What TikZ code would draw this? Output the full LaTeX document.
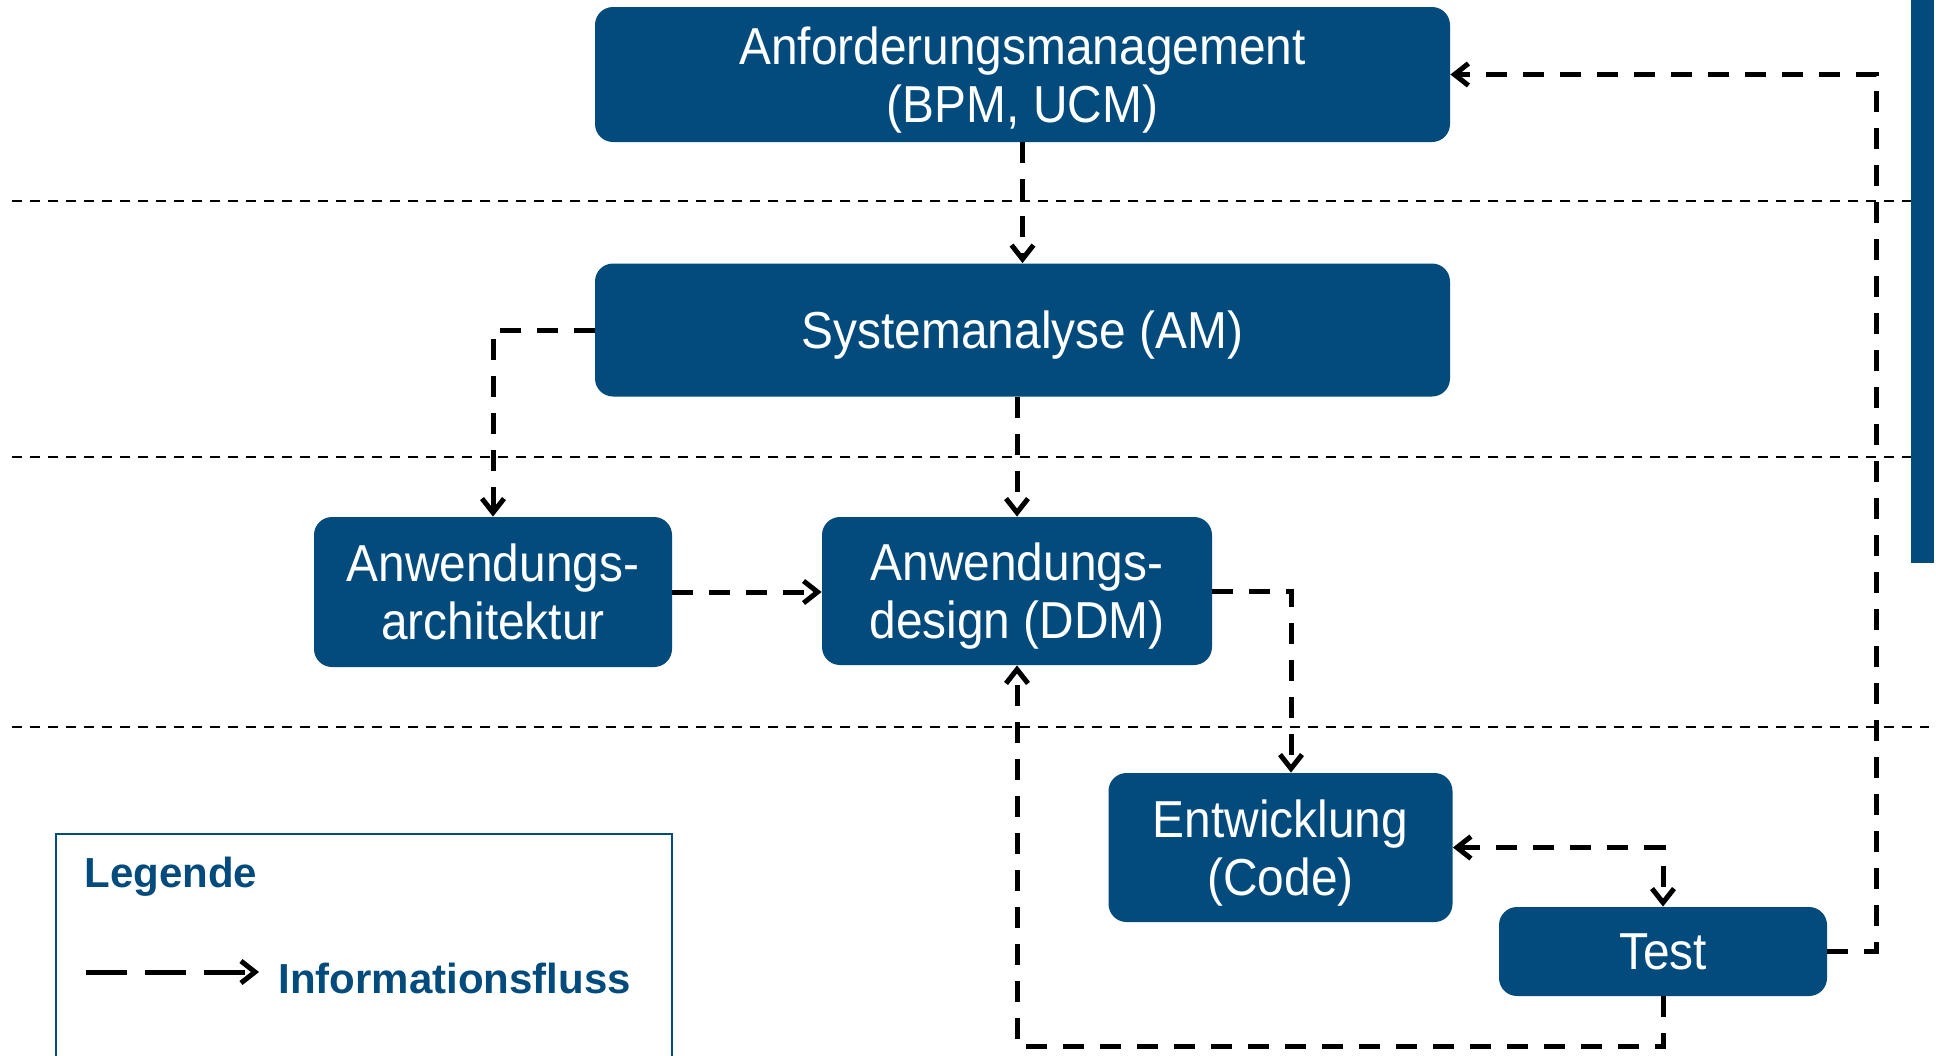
\documentclass[tikz,border=0pt]{standalone}
\usepackage{fontspec}
\setmainfont{Liberation Sans}
\newfontfamily\boxfont[FakeStretch=0.92]{Liberation Sans}
\usetikzlibrary{arrows.meta}
\definecolor{boxblue}{RGB}{3,75,124}
\tikzset{
  barb/.tip={Straight Barb[length=7pt,width=11pt]},
  stage/.style={rectangle, rounded corners=9pt, fill=boxblue, text=white, align=center,
    inner sep=0pt, text depth=0pt, font=\boxfont\fontsize{26}{29}\selectfont},
  flow/.style={draw=black, line width=2.5pt, dash pattern=on 10.5pt off 8pt, -barb},
  sep/.style={draw=black, line width=1pt, dash pattern=on 5pt off 4pt},
  legtext/.style={text=boxblue, font=\bfseries\fontsize{21}{24}\selectfont, inner sep=0pt, anchor=base west}
}
\begin{document}
\begin{tikzpicture}[x=0.5pt,y=-0.5pt]
\useasboundingbox (0,0) rectangle (1936,1055);

% separators
\coordinate (L1) at (12,201);  \coordinate (R1) at (1911,201);
\coordinate (L2) at (12,457);  \coordinate (R2) at (1911,457);
\coordinate (L3) at (12,727);  \coordinate (R3) at (1929,727);
\draw[sep] (L1) -- (R1);
\draw[sep] (L2) -- (R2);
\draw[sep] (L3) -- (R3);

% right bar
\fill[boxblue] (1911,0) rectangle (1934,563);

% stages
\node[stage, minimum width=427.5pt, minimum height=67.5pt] (A) at (1022.5,74.5) {Anforderungsmanagement\\(BPM, UCM)};
\node[stage, minimum width=427.5pt, minimum height=66.5pt] (S) at (1022.5,330) {Systemanalyse (AM)};
\node[stage, minimum width=179pt, minimum height=75pt] (Arch) at (493,592) {Anwendungs-\\architektur};
\node[stage, minimum width=195pt, minimum height=74pt] (D) at (1017,591) {Anwendungs-\\design (DDM)};
\node[stage, minimum width=172pt, minimum height=74.5pt] (E) at (1280.5,847.5) {Entwicklung\\(Code)};
\node[stage, minimum width=164pt, minimum height=44.5pt] (T) at (1663,951.5) {Test};

% connectors
\draw[flow] (A.south) -- (S.north);
\draw[flow] (S.west) -| (Arch.north);
\draw[flow] (S.south -| D.north) -- (D.north);
\draw[flow] (Arch.east) -- (Arch.east -| D.west);
\draw[flow] (D.east) -| ([xshift=5.25pt]E.north);
\draw[flow, barb-barb] (E.east) -| (T.north);
\coordinate (rr) at (1876,0);
\draw[flow] (T.east) -| (rr |- A.east) -- (A.east);
\coordinate (bb) at (0,1046);
\draw[flow] (T.south) -- (T.south |- bb) -| (D.south);

% legend
\draw[boxblue, line width=1.2pt] (56,1060) -- (56,834) -- (672,834) -- (672,1060);
\node[legtext] (lg) at (84,887) {Legende};
\coordinate (la) at (86,972);
\coordinate (lb) at (259,972);
\draw[line width=2.5pt, dash pattern=on 20.5pt off 9pt, -barb] (la) -- (lb);
\node[legtext] (li) at (278,993) {Informationsfluss};
\end{tikzpicture}
\end{document}
